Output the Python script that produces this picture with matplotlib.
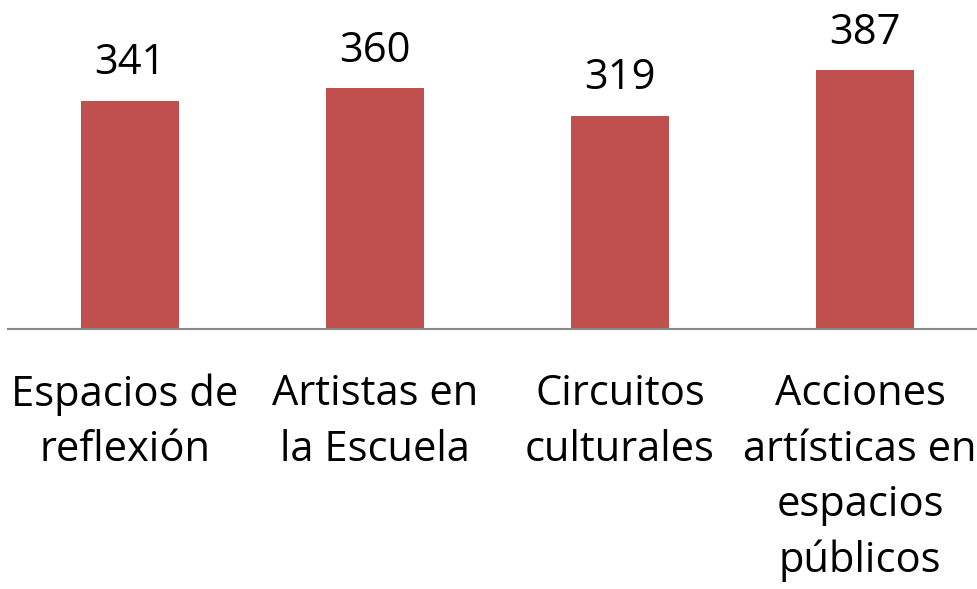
import matplotlib.pyplot as plt

categories = ['Espacios de\nreflexión', 'Artistas en\nla Escuela', 'Circuitos\nculturales',
              'Acciones\nartísticas en\nespacios\npúblicos']
values = [341, 360, 319, 387]

plt.rcParams['font.family'] = ['Open Sans', 'DejaVu Sans']

W, H = 978, 589
fig = plt.figure(figsize=(W / 100, H / 100), dpi=100)
# axes in pixel terms: left edge 7.5, width 980, baseline at y=329 from top
ax = fig.add_axes([7.5 / W, (H - 329) / H, 980 / W, 329 / H])

x = range(len(values))
ax.bar(x, values, width=0.4, color='#c0504d', zorder=2)
ax.set_xlim(-0.5, 3.5)
ax.set_ylim(0, 329 / (228 / 341))

for xi, v in zip(x, values):
    ax.annotate(str(v), (xi, v), xytext=(0, 12), textcoords='offset points',
                ha='center', va='bottom', fontsize=30, color='black')

# outer labels are nudged inwards a little, like in the original
nudge = [-3.6, 0, 0, -3.6]
for xi, c, dx in zip(x, categories, nudge):
    ax.annotate(c, (xi, 0), xycoords=('data', 'axes fraction'), xytext=(dx, -32),
                textcoords='offset points', ha='center', va='top',
                fontsize=30, color='black', linespacing=1.42)

for s in ['top', 'right', 'left']:
    ax.spines[s].set_visible(False)
ax.spines['bottom'].set_color('#898989')
ax.spines['bottom'].set_linewidth(1.5)
ax.set_xticks([])
ax.set_yticks([])

fig.savefig('out.png', dpi=100)
